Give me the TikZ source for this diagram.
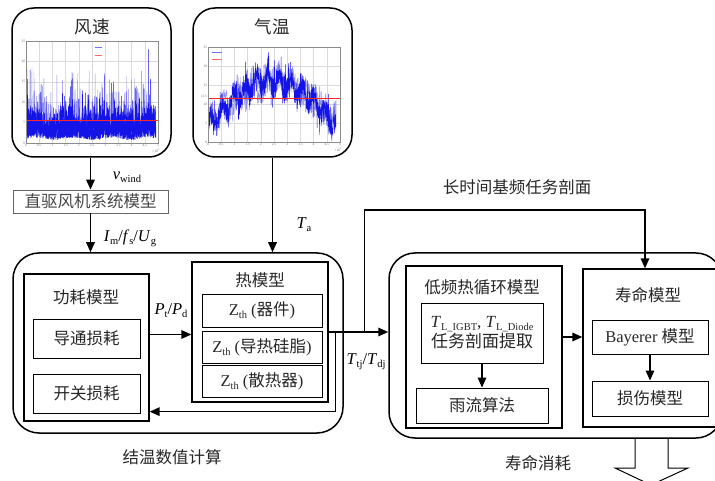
\documentclass[tikz,border=0pt]{standalone}
\usepackage{fontspec}
\setmainfont{Liberation Serif}
\newfontfamily\cjk{Noto Sans CJK SC}
\usetikzlibrary{arrows.meta,fit,calc}

\definecolor{ink}{HTML}{262626}
\definecolor{plotblue}{HTML}{1414E8}
\definecolor{haze}{HTML}{8C8CF0}
\definecolor{gridc}{HTML}{DADADA}
\definecolor{tickc}{HTML}{707070}

% subscript set a little below the baseline
\newcommand\sbs[1]{\raisebox{-3pt}{\fontsize{10.5}{11}\selectfont #1}}
\newcommand\zh[1]{{\cjk #1}}

\begin{document}
\begin{tikzpicture}[x=1pt,y=-1pt,
  panel/.style={draw, line width=1.5pt, rounded corners=22pt, inner sep=0pt},
  group/.style={draw, line width=1.3pt, inner sep=0pt},
  cell/.style={draw, line width=0.9pt, inner sep=0pt, text=ink,
    font=\fontsize{16.5}{19}\selectfont},
  gcell/.style={cell, draw=black!60},
  title/.style={text=ink, inner sep=0pt, font=\fontsize{16.5}{19}\selectfont\cjk},
  lab/.style={text=black, inner sep=0pt, font=\fontsize{16.5}{19}\selectfont},
  arr/.style={line width=1.6pt, -{Triangle[length=10pt,width=8.5pt]}},
  tick/.style={font=\fontsize{3.6}{4}\selectfont, text=tickc, inner sep=0.6pt},
  gridline/.style={gridc, line width=0.3pt},
  datum/.style={plotblue, line width=0.4pt, line join=round},
  halo/.style={haze, line width=0.35pt, line join=round},
  meanline/.style={red!85, line width=0.3pt},
]
\useasboundingbox (0,0) rectangle (715,481);
\pgfmathsetseed{11}

% ---------------- wind speed panel ----------------
\node[panel, fit={(12,8) (171,157)}] (wind) {};
\node[title, font=\fontsize{17.5}{20}\selectfont\cjk] (windt) at (92,27) {风速};
\begin{scope}[shift={(26,143)}, x=26.4pt, y=4.08pt]
  \foreach \v in {5,10,...,20} \draw[gridline] (0,\v) -- (5,\v);
  \foreach \u in {0.5,1,...,4.5} \draw[gridline] (\u,0) -- (\u,25);
  \begin{scope}
    \clip (0,0) rectangle (5,25);
    \draw[halo] plot[domain=0.02:4.92, samples=500]
      (\x,{1.5+9*rnd*rnd+13*pow(rnd,9)});
    \draw[datum] plot[domain=0.02:4.92, samples=1300]
      (\x,{(1.0+7.5*rnd*rnd+12*pow(rnd,9))*(1+0.25*sin(250*\x))});
    \draw[datum] plot[domain=0.03:4.91, samples=700]
      (\x,{(1.5+6.5*rnd)*(1+0.2*sin(310*\x))});
    \draw[meanline] (0,5.5) -- (5,5.5);
  \end{scope}
  \draw[plotblue!60, line width=0.4pt] (2.6,23.4) -- (2.87,23.4);
  \draw[red!60, line width=0.4pt] (2.6,21.6) -- (2.87,21.6);
  \draw[black!45, line width=0.3pt] (0,0) rectangle (5,25);
  \foreach \v in {0,5,...,25} \node[tick, anchor=east] at (0,\v) {\v};
  \foreach \u in {0,0.5,1,1.5,2,2.5,3,3.5,4,4.5,5}
    \node[tick, anchor=north] at (\u,0) {\u};
  \node[tick, anchor=north east] at (5.1,-1.3) {×10\textsuperscript{5}};
\end{scope}

% ---------------- air temperature panel ----------------
\node[panel, fit={(193,8) (352,157)}] (temp) {};
\node[title, font=\fontsize{17.5}{20}\selectfont\cjk] (tempt) at (272,27) {气温};
\begin{scope}[shift={(208,142)}, x=26.4pt, y=3.8pt]
  \foreach \v in {5,10,15,20} \draw[gridline] (0,\v) -- (5,\v);
  \foreach \u in {0.5,1,...,4.5} \draw[gridline] (\u,0) -- (\u,25);
  \begin{scope}
    \clip (0,0) rectangle (5,25);
    \draw[halo] plot[domain=0.02:4.85, samples=400]
      (\x,{max(0.4, 4.5+11.5*sin(180*\x/4.9)+2*sin(700*\x)+3.8*rand)});
    \draw[datum] plot[domain=0.02:4.85, samples=1000]
      (\x,{max(0.4, 4+12*sin(180*\x/4.9)+2*sin(830*\x)+2.8*rand+5*pow(rnd,7)-4*pow(rnd,7))});
    \draw[meanline] (0,11.5) -- (5,11.5);
  \end{scope}
  \draw[plotblue!60, line width=0.4pt] (0.15,23.7) -- (0.53,23.7);
  \draw[red!60, line width=0.4pt] (0.15,21.8) -- (0.53,21.8);
  \draw[black!45, line width=0.3pt] (0,0) rectangle (5,25);
  \foreach \v in {0,5,10,15,20,25} \node[tick, anchor=east] at (0,\v) {\v};
  \node[tick, anchor=east] at (0,11.9) {11.5};
  \foreach \u in {0,0.5,1,1.5,2,2.5,3,3.5,4,4.5,5}
    \node[tick, anchor=north] at (\u,0) {\u};
  \node[tick, anchor=north east] at (5.1,-1.3) {×10\textsuperscript{5}};
\end{scope}

% ---------------- generator model ----------------
\node[gcell, fit={(13,190) (168,213)}] (pmsg) {};
\node[title, text=black!72] at (pmsg.center) {直驱风机系统模型};

\draw[arr] (pmsg.north |- wind.south) -- (pmsg.north);
\node[lab] (vw) at (127,177) {\textit{v}\sbs{wind}};

% ---------------- junction temperature calculation ----------------
\node[panel, rounded corners=26pt, fit={(13,253) (343,433)}] (junc) {};
\node[title] (junct) at (172,457) {结温数值计算};

\node[group, fit={(24,274) (149,421)}] (loss) {};
\node[title] (losst) at (86,297) {功耗模型};
\node[cell, fit={(33,319) (140,358)}] (cond) {};
\node[title] at (cond.center) {导通损耗};
\node[cell, fit={(33,374) (140,413)}] (swl) {};
\node[title] at (swl.center) {开关损耗};

\node[group, fit={(192,262) (328,402)}] (therm) {};
\node[title] (thermt) at (260,280) {热模型};
\node[cell, fit={(202,294) (322,327)}] (z1) {};
\node[lab, text=ink] at (z1.center) {Z\sbs{th} (\zh{器件})};
\node[cell, fit={(202,331) (322,363)}] (z2) {};
\node[lab, text=ink] at (z2.center) {Z\sbs{th} (\zh{导热硅脂})};
\node[cell, fit={(202,365) (322,397)}] (z3) {};
\node[lab, text=ink] at (z3.center) {Z\sbs{th} (\zh{散热器})};

\draw[arr] (pmsg.south) -- (pmsg.south |- junc.north);
\node[lab] (imfu) at (130,238) {\textit{I}\sbs{m}/\textit{f}\sbs{s}/\textit{U}\sbs{g}};
\draw[arr] (temp.south) -- (temp.south |- junc.north);
\node[lab] (ta) at (304,225) {\textit{T}\sbs{a}};

\draw[arr] ([yshift=13pt]loss.east) -- ([yshift=13pt]loss.east -| therm.west);
\node[lab] (ptpd) at (171,311) {\textit{P}\sbs{t}/\textit{P}\sbs{d}};

% feedback of junction temperature to the loss model
\draw[arr] ([xshift=7pt]therm.east) |- ([yshift=10pt]loss.south east);

% ---------------- lifetime consumption ----------------
\node[panel, rounded corners=26pt, fit={(389,253) (722,438)}] (life) {};
\node[title] (lifet) at (538,463) {寿命消耗};

\node[group, fit={(406,266) (562,428)}] (lf) {};
\node[title] (lft) at (482,287) {低频热循环模型};
\node[cell, fit={(421,303) (543,363)}] (tl) {};
\node[lab, text=ink, align=center, font=\fontsize{17}{19}\selectfont] at (tl.center)
  {\textit{T}\sbs{L\_IGBT}, \textit{T}\sbs{L\_Diode}\\[1pt]\zh{任务剖面提取}};
\node[cell, fit={(416,388) (548,423)}] (rain) {};
\node[title] at (rain.center) {雨流算法};

\node[group, fit={(583,269) (716,427)}] (lm) {};
\node[title] (lmt) at (648,295) {寿命模型};
\node[cell, fit={(592,320) (708,354)}] (bay) {};
\node[lab, text=ink] at (bay.center) {Bayerer \zh{模型}};
\node[cell, fit={(592,381) (708,416)}] (dmg) {};
\node[title] at (dmg.center) {损伤模型};

\draw[arr] (tl.south) -- (rain.north);
\draw[arr] ([yshift=10pt]lf.east) -- ([yshift=10pt]lf.east -| lm.west);
\draw[arr] (bay.south) -- (dmg.north);

% junction temperature into the lifetime block
\draw[arr] (therm.east) -- (therm.east -| life.west);
\node[lab] (ttd) at (366,362) {\textit{T}\sbs{tj}/\textit{T}\sbs{dj}};

% long-term fundamental-frequency mission profile
\coordinate (bend) at (500,210);
\draw[arr] ([xshift=36pt]therm.east) |- (bend) -| ([xshift=-4.5pt]lm.north);
\node[title] (mpt) at (517,187) {长时间基频任务剖面};

% hollow output arrow
\draw[line width=1pt, line join=miter]
  (635,438) -- (635,468) -- (615,468) -- (651,485) -- (688,468) -- (668,468) -- (668,438);
\end{tikzpicture}
\end{document}
